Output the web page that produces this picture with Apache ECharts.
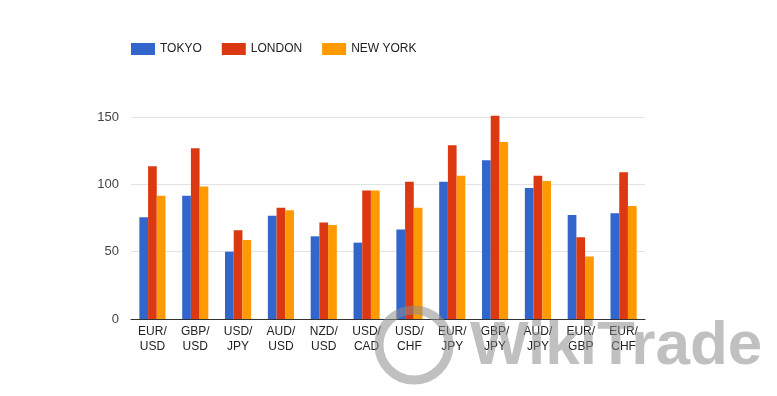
<!DOCTYPE html>
<html><head><meta charset="utf-8">
<script src="https://cdn.jsdelivr.net/npm/echarts@6/dist/echarts.min.js"></script>
<style>html,body{margin:0;padding:0;background:#fff}#c{width:777px;height:396px}</style>
</head><body><div id="c"></div>
<script>
var categories = ['EUR/\nUSD','GBP/\nUSD','USD/\nJPY','AUD/\nUSD','NZD/\nUSD','USD/\nCAD','USD/\nCHF','EUR/\nJPY','GBP/\nJPY','AUD/\nJPY','EUR/\nGBP','EUR/\nCHF'];
var tokyo   = [75.5, 91.5, 50, 76.7, 61.4, 56.7, 66.4, 101.9, 117.9, 97.2, 77.2, 78.5];
var london  = [113.5, 126.8, 65.9, 82.7, 71.6, 95.5, 101.9, 129, 151, 106.3, 60.7, 109];
var newYork = [91.5, 98.4, 58.7, 80.7, 69.8, 95.5, 82.7, 106.3, 131.5, 102.4, 46.4, 83.9];
var yTicks = [0, 50, 100, 150];

var chart = echarts.init(document.getElementById('c'), null, {renderer:'canvas'});
var font = 'Arial, "Liberation Sans", sans-serif';
chart.setOption({
  animation: false,
  textStyle: {fontFamily: font},
  legend: {
    left: 126, top: 38,
    itemWidth: 24, itemHeight: 12, itemGap: 20,
    icon: 'rect',
    textStyle: {fontSize: 12, color: '#222', fontFamily: font},
    data: ['TOKYO','LONDON','NEW YORK']
  },
  grid: {left: 131, right: 132, top: 117, bottom: 77, containLabel: false},
  xAxis: {
    type: 'category', data: categories,
    axisLine: {lineStyle: {color: '#333', width: 1}},
    axisTick: {show: false},
    axisLabel: {color: '#222', fontSize: 12, lineHeight: 15, margin: 5, interval: 0, fontFamily: font}
  },
  yAxis: {
    type: 'value', min: yTicks[0], max: yTicks[yTicks.length-1], interval: 50,
    axisLine: {show: false}, axisTick: {show: false},
    axisLabel: {color: '#444', fontSize: 13, margin: 12, fontFamily: font},
    splitLine: {lineStyle: {color: '#e3e3e3', width: 1}}
  },
  series: [
    {name: 'TOKYO', type: 'bar', data: tokyo, itemStyle: {color: '#3366cc'}, barGap: '0%', barCategoryGap: '39%', clip: false},
    {name: 'LONDON', type: 'bar', data: london, itemStyle: {color: '#dc3912'}, clip: false},
    {name: 'NEW YORK', type: 'bar', data: newYork, itemStyle: {color: '#ff9900'}, clip: false}
  ],
  graphic: [
    {type: 'circle', shape: {cx: 414, cy: 345, r: 35}, style: {fill: 'none', stroke: 'rgba(140,140,140,0.55)', lineWidth: 9}, z: 100},
    {type: 'text', left: 470, top: 316, style: {text: 'WikiTrade', font: 'bold 62px Arial, "Liberation Sans", sans-serif', fill: 'rgba(140,140,140,0.55)'}, z: 100}
  ]
});
</script></body></html>
